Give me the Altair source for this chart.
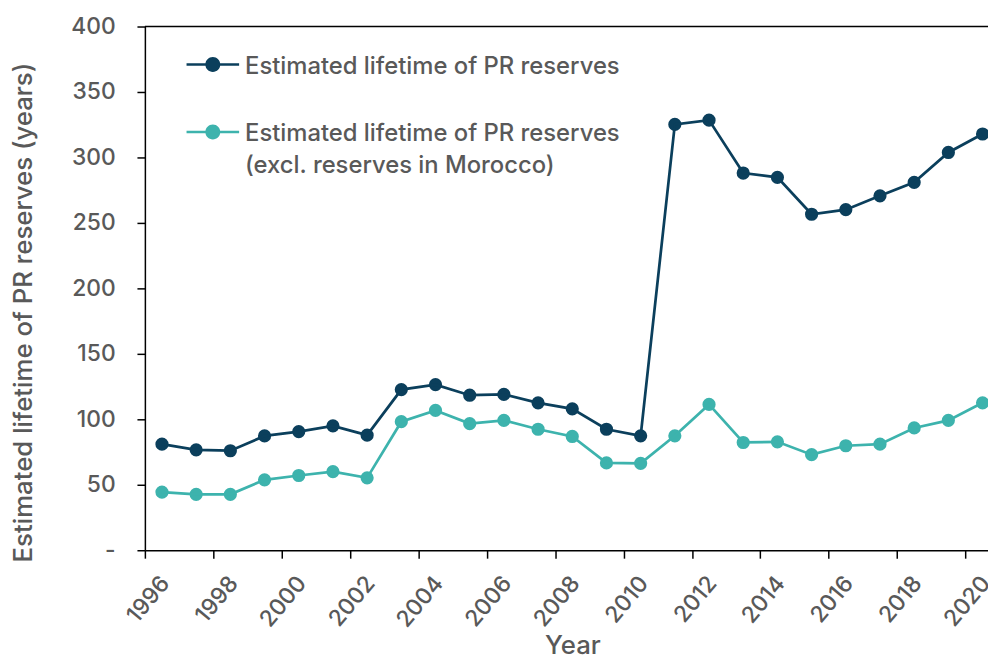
import altair as alt
import pandas as pd

years = list(range(1996, 2021))
total = [81, 76.7, 76, 87.3, 90.6, 95, 87.9, 122.7, 126.5, 118.4, 119, 112.6, 108,
         92.4, 87.4, 325.2, 328.5, 288.1, 284.8, 256.6, 260.1, 270.7, 281, 303.8, 317.9]
excl = [44.4, 42.7, 42.7, 53.8, 57.1, 60.1, 55.3, 98.2, 106.8, 96.7, 99.2, 92.4, 86.9,
        66.7, 66.4, 87.4, 111.4, 82.3, 82.8, 73, 79.8, 81, 93.4, 99.2, 112.6]
series_names = ["Estimated lifetime of PR reserves",
                "Estimated lifetime of PR reserves|(excl. reserves in Morocco)"]
colors = ["#0b3f5c", "#3db3ad"]
x_label_years = list(range(1996, 2021, 2))
y_ticks = list(range(0, 401, 50))

df = pd.concat([
    pd.DataFrame({"year": years, "value": total, "series": series_names[0]}),
    pd.DataFrame({"year": years, "value": excl, "series": series_names[1]}),
])

FONT = "Inter"
GREY = "#595959"
STEP = 34.47
W, H = 850, 528

x_enc = alt.X(
    "year:Q",
    scale=alt.Scale(domain=[1995.5, 1995.5 + W / STEP], nice=False, zero=False),
    axis=alt.Axis(
        values=x_label_years, title="Year", labelAngle=-50, labelAlign="right",
        labelBaseline="middle", labelPadding=21, tickSize=8,
        tickOffset=-STEP / 2, labelOffset=STEP / 2 + 3, format="d",
        titleX=431, titleY=104, titleBaseline="alphabetic", titleAlign="center",
    ),
)
y_enc = alt.Y(
    "value:Q",
    scale=alt.Scale(domain=[0, 400], nice=False),
    axis=alt.Axis(
        values=y_ticks, title="Estimated lifetime of PR reserves (years)",
        labelExpr="datum.value == 0 ? '-\u00a0\u00a0' : datum.label",
        labelPadding=22, tickSize=8,
        titleX=-114, titleY=288, titleAngle=-90, titleBaseline="alphabetic", titleAlign="center",
    ),
)
color_enc = alt.Color(
    "series:N",
    scale=alt.Scale(domain=series_names, range=colors),
    legend=alt.Legend(
        title=None, orient="none", legendX=42, legendY=2, padding=0,
        symbolType="M-1,0.323H1V0.417H-1Z M0.283,0.37A0.283,0.283 0 1,1 -0.283,0.37A0.283,0.283 0 1,1 0.283,0.37Z",
        symbolSize=2809, symbolStrokeWidth=0, symbolOffset=0, labelOffset=6,
        labelBaseline="top", labelExpr="split(datum.label, '|')",
        labelFontSize=24, labelFontWeight=500, labelColor=GREY, labelFont=FONT,
        labelLimit=0, rowPadding=17,
    ),
)

points = alt.Chart(df).mark_point(filled=True, size=177, opacity=1).encode(
    x=x_enc, y=y_enc, color=color_enc
)
lines = alt.Chart(df).mark_line(strokeWidth=2.75).encode(
    x=x_enc, y=y_enc, color=color_enc, detail="series:N"
)
top = alt.Chart(pd.DataFrame({"v": [400]})).mark_rule(color="black", strokeWidth=1.5).encode(
    y=alt.Y("v:Q", scale=alt.Scale(domain=[0, 400], nice=False))
)

chart = alt.layer(points, lines, top).properties(
    width=W, height=H,
    autosize=alt.AutoSizeParams(type="none"),
    padding={"left": 138, "top": 16, "right": 0, "bottom": 110},
).configure(
    style={"guide-label": {"lineHeight": 32}}
).configure_view(stroke=None).configure_axis(
    labelFont=FONT, titleFont=FONT, labelFontSize=23, titleFontSize=26,
    labelFontWeight=500, titleFontWeight=500,
    labelColor=GREY, titleColor=GREY,
    domainColor="black", tickColor="black", domainWidth=1.5, tickWidth=1.5, grid=False,
)

chart.save("out.html", embed_options={"renderer": "svg", "actions": False})
